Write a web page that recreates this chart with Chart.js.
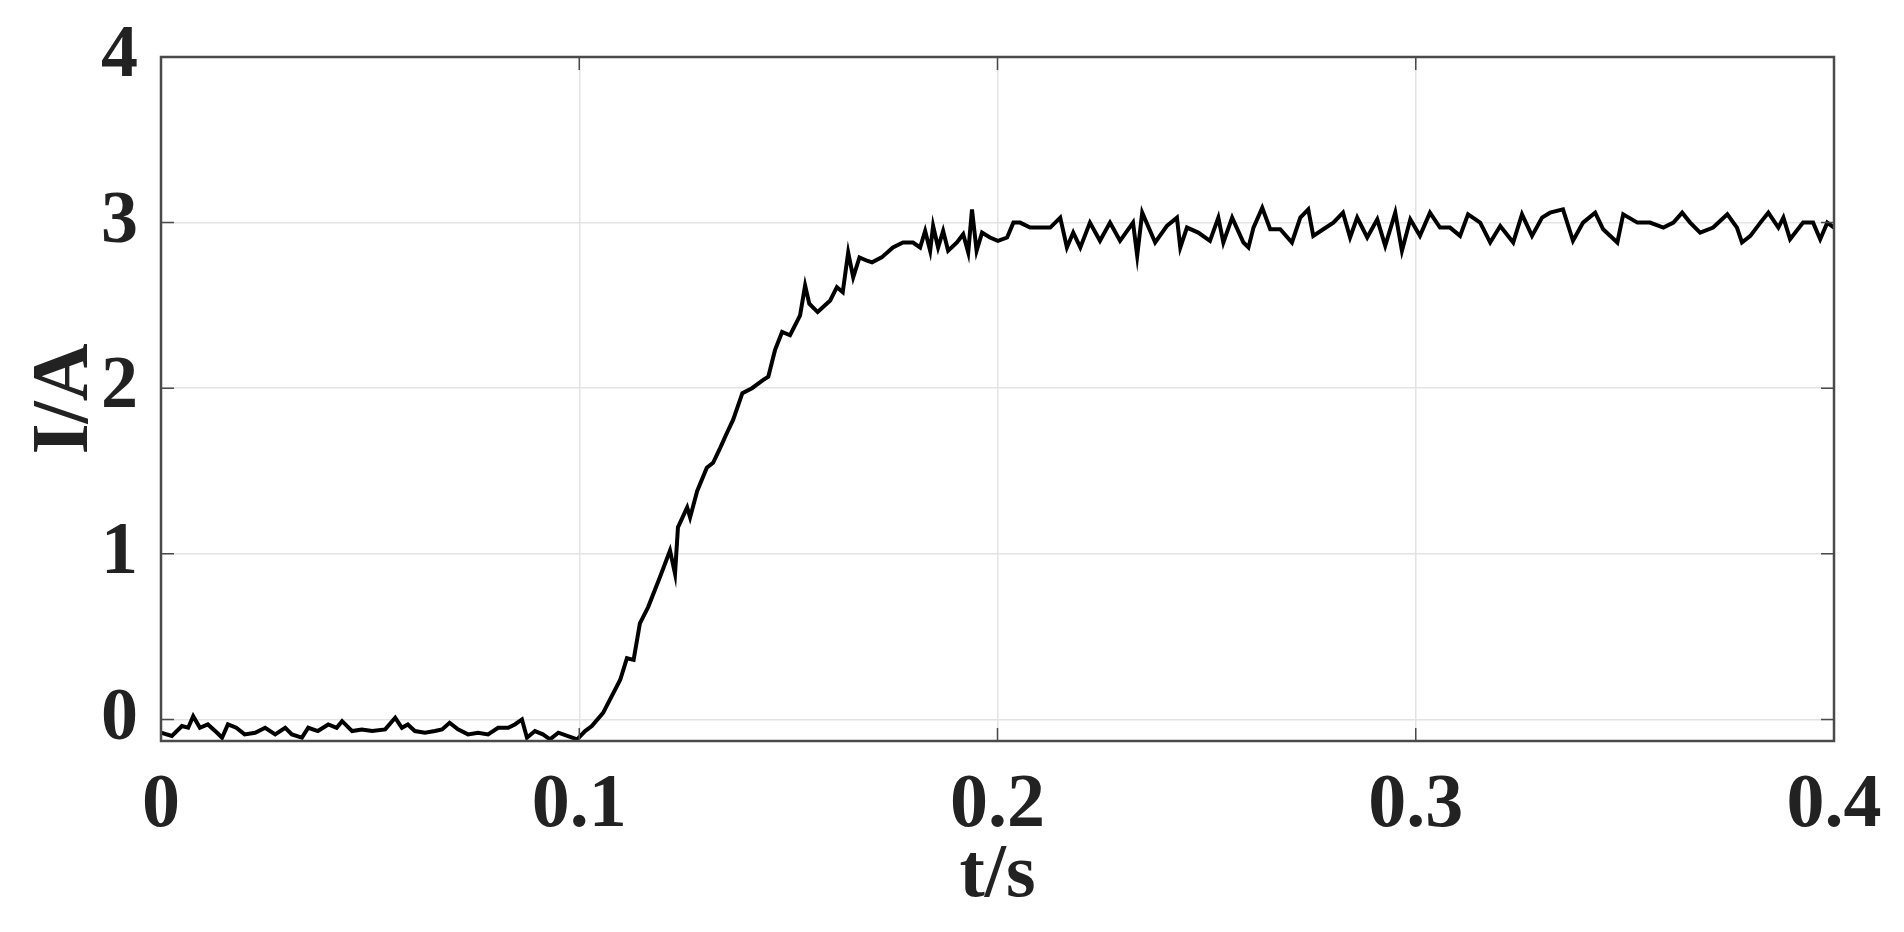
<!DOCTYPE html>
<html>
<head>
<meta charset="utf-8">
<script src="https://cdn.jsdelivr.net/npm/chart.js@4"></script>
<style>
  body { margin: 0; background: #fff; }
  #wrap { width: 1904px; height: 932px; }
</style>
</head>
<body>
<div id="wrap"><canvas id="currentChart" width="1904" height="932"></canvas></div>
<script>
const timeValues = [
    0.0000, 0.0026, 0.0050, 0.0065, 0.0077, 0.0093, 0.0112, 0.0134, 0.0146, 0.0160,
    0.0180, 0.0200, 0.0225, 0.0249, 0.0273, 0.0297, 0.0313, 0.0337, 0.0352, 0.0375,
    0.0400, 0.0420, 0.0433, 0.0457, 0.0480, 0.0505, 0.0536, 0.0560, 0.0576, 0.0590,
    0.0607, 0.0631, 0.0655, 0.0672, 0.0690, 0.0710, 0.0734, 0.0758, 0.0782, 0.0806,
    0.0830, 0.0846, 0.0863, 0.0875, 0.0894, 0.0913, 0.0930, 0.0950, 0.0973, 0.0995,
    0.1014, 0.1030, 0.1057, 0.1098, 0.1114, 0.1130, 0.1145, 0.1165, 0.1193, 0.1217,
    0.1229, 0.1236, 0.1258, 0.1265, 0.1282, 0.1305, 0.1320, 0.1337, 0.1353, 0.1368,
    0.1390, 0.1413, 0.1440, 0.1452, 0.1468, 0.1485, 0.1504, 0.1528, 0.1540, 0.1550,
    0.1570, 0.1600, 0.1616, 0.1630, 0.1643, 0.1655, 0.1670, 0.1688, 0.1700, 0.1723,
    0.1750, 0.1774, 0.1798, 0.1815, 0.1827, 0.1839, 0.1846, 0.1858, 0.1870, 0.1882,
    0.1903, 0.1918, 0.1930, 0.1939, 0.1950, 0.1963, 0.1982, 0.2001, 0.2023, 0.2038,
    0.2054, 0.2078, 0.2102, 0.2126, 0.2150, 0.2166, 0.2181, 0.2198, 0.2221, 0.2245,
    0.2269, 0.2293, 0.2324, 0.2334, 0.2346, 0.2377, 0.2405, 0.2429, 0.2437, 0.2453,
    0.2480, 0.2508, 0.2528, 0.2540, 0.2561, 0.2588, 0.2600, 0.2612, 0.2633, 0.2652,
    0.2676, 0.2704, 0.2724, 0.2743, 0.2755, 0.2779, 0.2803, 0.2826, 0.2843, 0.2860,
    0.2884, 0.2908, 0.2927, 0.2951, 0.2967, 0.2987, 0.3010, 0.3034, 0.3058, 0.3082,
    0.3106, 0.3125, 0.3154, 0.3178, 0.3202, 0.3233, 0.3254, 0.3278, 0.3302, 0.3321,
    0.3352, 0.3376, 0.3400, 0.3429, 0.3448, 0.3482, 0.3496, 0.3530, 0.3560, 0.3592,
    0.3616, 0.3637, 0.3656, 0.3680, 0.3711, 0.3745, 0.3768, 0.3780, 0.3800, 0.3824,
    0.3843, 0.3867, 0.3879, 0.3895, 0.3926, 0.3950, 0.3967, 0.3984, 0.4000
];
const currentValues = [
    -0.08, -0.10, -0.04, -0.05, 0.02, -0.05, -0.03, -0.08, -0.11, -0.03,
    -0.05, -0.09, -0.08, -0.05, -0.09, -0.05, -0.09, -0.11, -0.05, -0.07,
    -0.03, -0.05, -0.01, -0.07, -0.06, -0.07, -0.06, 0.01, -0.05, -0.03,
    -0.07, -0.08, -0.07, -0.06, -0.02, -0.06, -0.09, -0.08, -0.09, -0.05,
    -0.05, -0.03, 0.00, -0.11, -0.07, -0.09, -0.12, -0.08, -0.10, -0.12,
    -0.07, -0.04, 0.04, 0.24, 0.37, 0.36, 0.58, 0.68, 0.86, 1.02,
    0.88, 1.16, 1.28, 1.22, 1.38, 1.52, 1.55, 1.64, 1.73, 1.81,
    1.97, 2.00, 2.05, 2.07, 2.23, 2.34, 2.32, 2.44, 2.62, 2.51,
    2.46, 2.53, 2.61, 2.58, 2.82, 2.67, 2.79, 2.77, 2.76, 2.79,
    2.85, 2.88, 2.88, 2.85, 2.95, 2.83, 2.98, 2.85, 2.95, 2.83,
    2.88, 2.93, 2.82, 3.08, 2.83, 2.94, 2.91, 2.89, 2.91, 3.00,
    3.00, 2.97, 2.97, 2.97, 3.03, 2.85, 2.94, 2.85, 3.00, 2.89,
    3.00, 2.89, 3.00, 2.80, 3.06, 2.88, 2.98, 3.03, 2.85, 2.97,
    2.94, 2.89, 3.03, 2.88, 3.03, 2.88, 2.85, 2.97, 3.09, 2.96,
    2.96, 2.88, 3.03, 3.08, 2.92, 2.96, 3.00, 3.06, 2.91, 3.03,
    2.91, 3.02, 2.86, 3.06, 2.83, 3.02, 2.92, 3.06, 2.97, 2.97,
    2.92, 3.05, 3.00, 2.88, 2.98, 2.88, 3.05, 2.92, 3.03, 3.06,
    3.08, 2.89, 3.00, 3.06, 2.96, 2.88, 3.05, 3.00, 3.00, 2.97,
    3.00, 3.06, 3.00, 2.94, 2.97, 3.05, 2.97, 2.88, 2.92, 3.00,
    3.06, 2.97, 3.03, 2.90, 3.00, 3.00, 2.90, 3.00, 2.97
];
const xTicks = [0, 0.1, 0.2, 0.3, 0.4];
const yTicks = [0, 1, 2, 3, 4];

const textColor = '#222222';
const frameColor = '#4a4a4a';
const fontFamily = '"Liberation Serif", "DejaVu Serif", serif';

// Box around the plot plus MATLAB-style inward tick marks
const framePlugin = {
    id: 'frame',
    afterDatasetsDraw(chart) {
        const { ctx, chartArea: a, scales } = chart;
        const len = 13;
        ctx.save();
        ctx.strokeStyle = frameColor;
        ctx.lineWidth = 1.5;
        ctx.beginPath();
        xTicks.forEach(v => {
            const px = scales.x.getPixelForValue(v);
            ctx.moveTo(px, a.bottom); ctx.lineTo(px, a.bottom - len);
            ctx.moveTo(px, a.top); ctx.lineTo(px, a.top + len);
        });
        yTicks.forEach(v => {
            const py = scales.y.getPixelForValue(v);
            ctx.moveTo(a.left, py); ctx.lineTo(a.left + len, py);
            ctx.moveTo(a.right, py); ctx.lineTo(a.right - len, py);
        });
        ctx.stroke();
        ctx.lineWidth = 2.5;
        ctx.strokeRect(a.left, a.top, a.right - a.left, a.bottom - a.top);
        ctx.restore();
    }
};

const ctx = document.getElementById('currentChart').getContext('2d');
new Chart(ctx, {
    type: 'line',
    data: {
        datasets: [{
            data: timeValues.map((t, i) => ({ x: t, y: currentValues[i] })),
            borderColor: '#000000',
            borderWidth: 4,
            pointRadius: 0,
            tension: 0,
            fill: false
        }]
    },
    options: {
        responsive: false,
        animation: false,
        layout: { padding: { top: 57, right: 70, left: 0, bottom: 0 } },
        plugins: { legend: { display: false }, tooltip: { enabled: false } },
        scales: {
            x: {
                type: 'linear',
                min: 0,
                max: 0.4,
                afterBuildTicks: scale => { scale.ticks = xTicks.map(v => ({ value: v })); },
                afterFit: scale => {
                    scale.height = 191;
                    scale.paddingLeft = 0;
                    scale.paddingRight = 0;
                },
                grid: { color: '#e3e3e3', lineWidth: 1.5, drawTicks: false },
                border: { display: false },
                ticks: {
                    padding: 20,
                    color: textColor,
                    font: { family: fontFamily, size: 76, weight: 'bold' },
                    maxRotation: 0,
                    callback: v => String(v)
                },
                title: {
                    display: true,
                    text: 't/s',
                    color: textColor,
                    font: { family: fontFamily, size: 76, weight: 'bold', lineHeight: 1 },
                    padding: { top: 0, bottom: 18 }
                }
            },
            y: {
                min: -0.13,
                max: 4,
                afterBuildTicks: scale => { scale.ticks = yTicks.map(v => ({ value: v })); },
                afterFit: scale => {
                    scale.width = 161;
                    scale.paddingTop = 0;
                    scale.paddingBottom = 0;
                },
                grid: { color: '#e3e3e3', lineWidth: 1.5, drawTicks: false },
                border: { display: false },
                ticks: {
                    padding: 23,
                    color: textColor,
                    font: { family: fontFamily, size: 74, weight: 'bold' }
                },
                title: {
                    display: true,
                    text: 'I/A',
                    color: textColor,
                    font: { family: fontFamily, size: 80, weight: 'bold', lineHeight: 1 },
                    padding: { top: 26, bottom: 0 }
                }
            }
        }
    },
    plugins: [framePlugin]
});
</script>
</body>
</html>
